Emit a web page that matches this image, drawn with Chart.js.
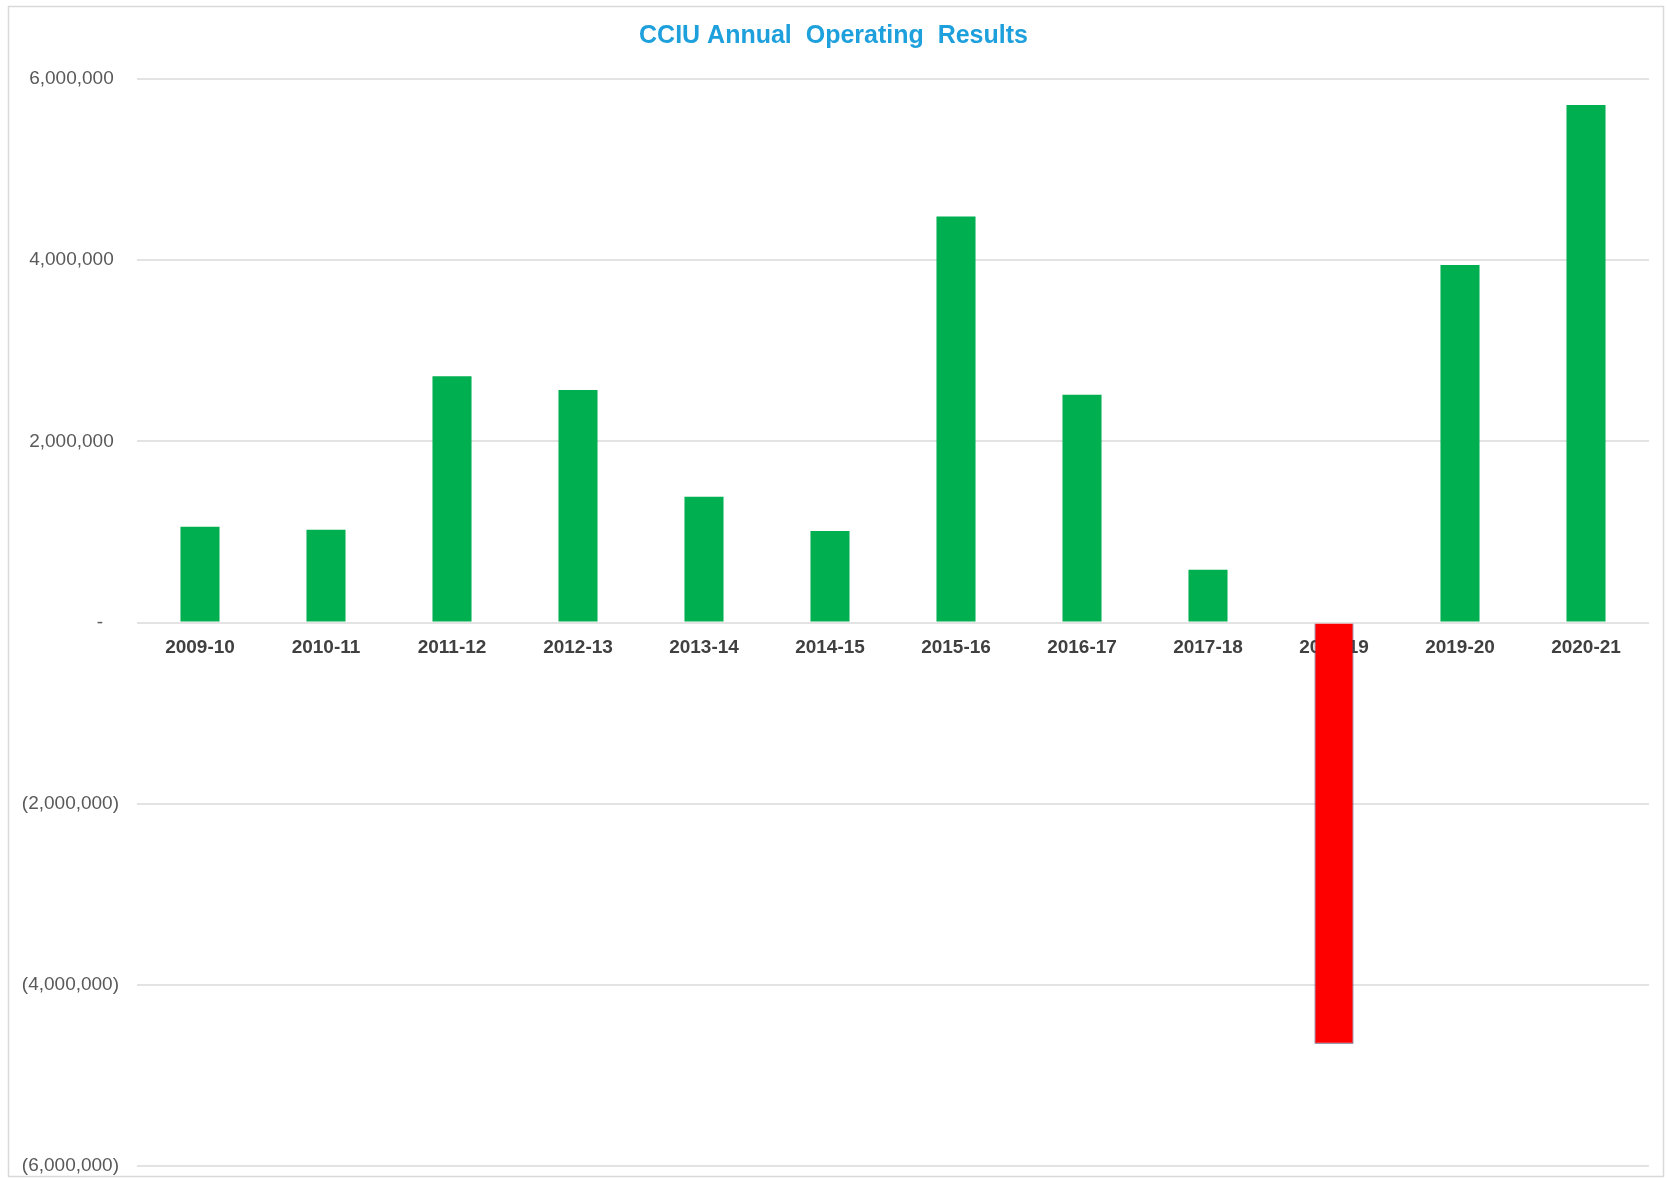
<!DOCTYPE html>
<html>
<head>
<meta charset="utf-8">
<title>CCIU Annual Operating Results</title>
<script src="https://cdn.jsdelivr.net/npm/chart.js@4.4.1/dist/chart.umd.min.js"></script>
<style>
    html, body { margin: 0; padding: 0; background: #ffffff; }
    #wrap { position: relative; width: 1667px; height: 1178px; }
</style>
</head>
<body>
<div id="wrap"><canvas id="chart"></canvas></div>
<script>
// Dados do grafico
const categories = ['2009-10', '2010-11', '2011-12', '2012-13', '2013-14', '2014-15',
    '2015-16', '2016-17', '2017-18', '2018-19', '2019-20', '2020-21'];
const results = [1057000, 1024000, 2718000, 2567000, 1389000, 1009000,
    4483000, 2514000, 582000, -4650000, 3948000, 5712000];
const yTicks = [-6000000, -4000000, -2000000, 0, 2000000, 4000000, 6000000];

const GREEN = '#00b050';
const RED = '#ff0000';
const FONT = "'Liberation Sans', Arial, sans-serif";

// Formato contabil: negativos entre parenteses, zero como "-"
function accounting(v) {
    if (v === 0) return '-   ';
    const s = Math.abs(v).toLocaleString('en-US');
    return v < 0 ? '(' + s + ')' : s + ' ';
}

// Moldura cinza em volta do grafico
const framePlugin = {
    id: 'frame',
    beforeDraw(chart) {
        const ctx = chart.ctx;
        ctx.save();
        ctx.strokeStyle = '#d9d9d9';
        ctx.lineWidth = 1.5;
        ctx.strokeRect(8.5, 6.5, chart.width - 12, chart.height - 8);
        ctx.restore();
    }
};

new Chart(document.getElementById('chart'), {
    type: 'bar',
    data: {
        labels: categories,
        datasets: [{
            data: results,
            backgroundColor: results.map(v => v < 0 ? RED : GREEN),
            borderColor: results.map(v => v < 0 ? '#50406e' : GREEN),
            borderWidth: results.map(v => v < 0 ? 1 : 0),
            barPercentage: 0.31,
            categoryPercentage: 1
        }]
    },
    options: {
        responsive: true,
        maintainAspectRatio: false,
        animation: false,
        layout: { padding: { left: 0, right: 0, top: 0, bottom: 12 } },
        plugins: {
            legend: { display: false },
            tooltip: { enabled: false },
            title: {
                display: true,
                text: 'CCIU Annual  Operating  Results',
                color: '#1ea0dc',
                font: { family: FONT, size: 25, weight: 'bold', lineHeight: 1.2 },
                padding: { top: 21, bottom: 28 }
            }
        },
        scales: {
            x: {
                position: { y: 0 },
                grid: { display: false, drawTicks: false },
                border: { display: false },
                ticks: {
                    color: '#404040',
                    font: { family: FONT, size: 19, weight: 'bold' },
                    padding: 14,
                    maxRotation: 0
                }
            },
            y: {
                min: yTicks[0],
                max: yTicks[yTicks.length - 1],
                afterBuildTicks(scale) {
                    scale.ticks = yTicks.map(v => ({ value: v }));
                },
                afterFit(scale) {
                    scale.width = 137;
                    scale.paddingTop = 0;
                    scale.paddingBottom = 0;
                },
                grid: { color: '#e3e3e3', lineWidth: 2, drawTicks: false },
                border: { display: false },
                ticks: {
                    color: '#595959',
                    font: { family: FONT, size: 19 },
                    padding: 18,
                    callback: v => accounting(v)
                }
            },
            // eixo vazio so para reservar a margem direita
            yRight: {
                position: 'right',
                grid: { display: false, drawTicks: false },
                border: { display: false },
                ticks: { display: false },
                afterFit(scale) {
                    scale.width = 18;
                }
            }
        }
    },
    plugins: [framePlugin]
});
</script>
</body>
</html>
